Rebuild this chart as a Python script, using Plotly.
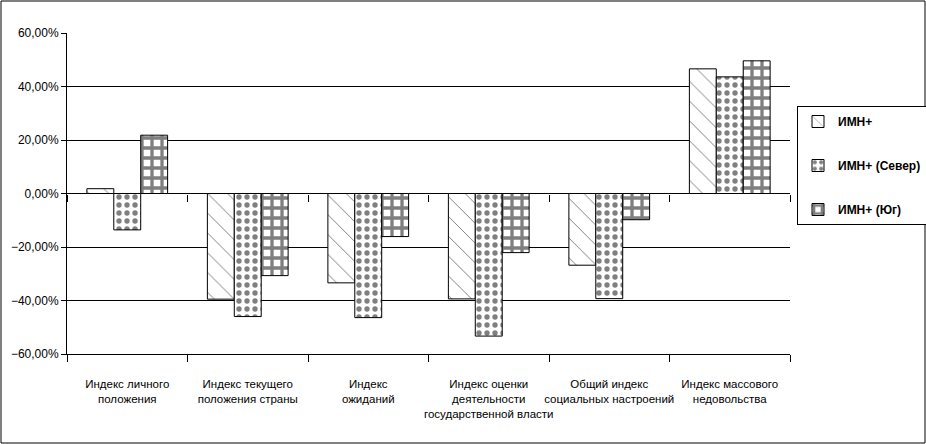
import plotly.graph_objects as go

categories = [
    "Индекс личного<br>положения",
    "Индекс текущего<br>положения страны",
    "Индекс<br>ожиданий",
    "Индекс оценки<br>деятельности<br>государственной власти",
    "Общий индекс<br>социальных настроений",
    "Индекс массового<br>недовольства",
]
series_names = ["ИМН+", "ИМН+ (Север)", "ИМН+ (Юг)"]
imn = [0.018, -0.395, -0.334, -0.394, -0.268, 0.466]
imn_north = [-0.136, -0.460, -0.464, -0.533, -0.393, 0.436]
imn_south = [0.218, -0.307, -0.161, -0.221, -0.098, 0.496]
y_ticks = [-0.6, -0.4, -0.2, 0.0, 0.2, 0.4, 0.6]
y_range = [-0.6, 0.6]

patterns = [
    dict(shape="\\", fgcolor="black", bgcolor="white", size=14, solidity=0.07),
    dict(shape=".", fgcolor="black", bgcolor="white", size=8, solidity=0.35),
    dict(shape="+", fgcolor="black", bgcolor="white", size=10, solidity=0.55),
]

fig = go.Figure()
for i, (name, vals) in enumerate(zip(series_names, [imn, imn_north, imn_south])):
    fig.add_trace(go.Bar(
        x=categories, y=vals, name=name, legendgroup=name,
        marker=dict(color="white", line=dict(color="black", width=1), pattern=patterns[i]),
    ))
# helper trace so the category axis crossing at zero gets drawn
fig.add_trace(go.Scatter(x=categories, y=[0] * len(categories), xaxis="x2", mode="none",
                         showlegend=False, hoverinfo="skip"))

L, R, T, B = 67, 136, 33, 90
W, H = 926, 444
pw, ph = W - L - R, H - T - B

shapes = [dict(type="rect", xref="paper", yref="paper",
               x0=-(L - 1) / pw, x1=1 + (R - 1) / pw,
               y0=-(B - 1) / ph, y1=1 + (T - 1) / ph,
               line=dict(color="black", width=1), fillcolor="rgba(0,0,0,0)", layer="below")]

zero_pos = (0 - y_range[0]) / (y_range[1] - y_range[0])

fig.update_layout(
    width=W, height=H,
    margin=dict(l=L, r=R, t=T, b=B, autoexpand=False),
    paper_bgcolor="white", plot_bgcolor="white",
    separators=", ",
    barmode="group", bargap=0.33, bargroupgap=0,
    font=dict(family="Liberation Sans, Arial, sans-serif", size=12, color="black"),
    xaxis=dict(
        type="category", tickson="boundaries",
        range=[-0.5, len(categories) - 0.5],
        showline=True, linecolor="black", linewidth=1,
        ticks="outside", ticklen=7, tickcolor="black",
        showgrid=False, zeroline=False, tickangle=0, automargin=False,
        tickfont=dict(size=11.5),
        ticklabelstandoff=19,
    ),
    xaxis2=dict(
        type="category", tickson="boundaries", overlaying="x", matches="x",
        anchor="free", position=zero_pos, side="bottom",
        showline=False, ticks="outside", ticklen=7, tickcolor="black",
        showticklabels=False, showgrid=False, zeroline=False, automargin=False,
    ),
    yaxis=dict(
        range=y_range, tickvals=y_ticks, tickformat=".2%",
        showline=True, linecolor="black", linewidth=1,
        ticks="outside", ticklen=5, tickcolor="black", automargin=False,
        showgrid=True, gridcolor="black", gridwidth=1,
        zeroline=True, zerolinecolor="black", zerolinewidth=1,
        tickfont=dict(size=12),
    ),
    legend=dict(
        x=(797 - L) / pw, y=(H - B - 106) / ph, xanchor="left", yanchor="top",
        bordercolor="black", borderwidth=1, bgcolor="white",
        font=dict(size=12, weight="bold"),
        tracegroupgap=25, itemwidth=30,
    ),
    shapes=shapes,
    showlegend=True,
)

fig.write_html("out.html", config={"displayModeBar": False},
               post_script="document.body.style.margin='0';document.body.style.padding='0';")
